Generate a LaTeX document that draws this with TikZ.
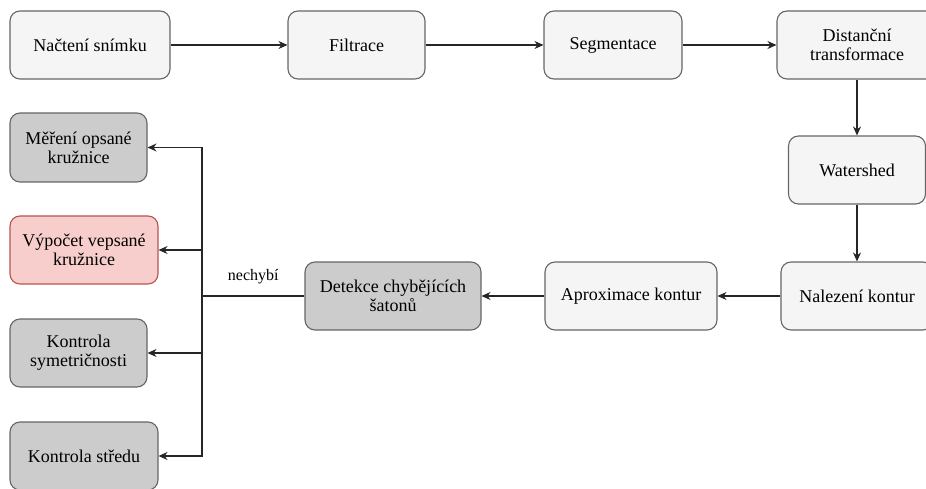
\documentclass[tikz,border=0pt]{standalone}
\usepackage{fontspec}
\setmainfont{Liberation Serif}
\usetikzlibrary{arrows.meta}

\definecolor{boxfill}{HTML}{F5F5F5}
\definecolor{boxdraw}{HTML}{666666}
\definecolor{greyfill}{HTML}{CCCCCC}
\definecolor{redfill}{HTML}{F8CECC}
\definecolor{reddraw}{HTML}{B85450}

\begin{document}
\begin{tikzpicture}[x=1pt,y=-1pt,
    stepbox/.style={draw=boxdraw, fill=boxfill, line width=1.1pt, rounded corners=10pt,
        minimum height=68pt, align=center, font=\fontsize{18}{21}\selectfont, inner sep=2pt},
    checkbox/.style={stepbox, fill=greyfill},
    flow/.style={draw=black!85, line width=1.2pt, -{Stealth[length=9pt,width=8pt]}}]
    \useasboundingbox (0,0) rectangle (926,489);

    %zpracovani snimku
    \node[stepbox, minimum width=160pt] (load)  at (90,45)    {Načtení snímku};
    \node[stepbox, minimum width=137pt] (filt)  at (356.5,45) {Filtrace};
    \node[stepbox, minimum width=138pt] (seg)   at (613,45)   {Segmentace};
    \node[stepbox, minimum width=160pt] (dist)  at (857,45)   {Distanční\\[-2pt]transformace};
    \node[stepbox, minimum width=137pt] (water) at (857,170)  {Watershed};
    \node[stepbox, minimum width=152pt] (nal)   at (857,296)  {Nalezení kontur};
    \node[stepbox, minimum width=172pt] (aprox) at (631,296)  {Aproximace kontur};
    \node[checkbox, minimum width=176pt] (det)  at (393,296)  {Detekce chybějících\\[-2pt]šatonů};

    %mereni
    \node[checkbox, minimum width=137pt, minimum height=69pt] (mer) at (78.5,147.5) {Měření opsané\\[-2pt]kružnice};
    \node[stepbox, fill=redfill, draw=reddraw, minimum width=148pt] (vyp) at (84,250) {Výpočet vepsané\\[-2pt]kružnice};
    \node[checkbox, minimum width=137pt] (sym) at (78.5,353) {Kontrola\\[-2pt]symetričnosti};
    \node[checkbox, minimum width=148pt] (str) at (84,456)   {Kontrola středu};

    \draw[flow] (load) -- (filt);
    \draw[flow] (filt) -- (seg);
    \draw[flow] (seg) -- (dist);
    \draw[flow] (dist) -- (water);
    \draw[flow] (water) -- (nal);
    \draw[flow] (nal) -- (aprox);
    \draw[flow] (aprox) -- (det);

    %vetveni
    \coordinate (split) at (202,296);
    \draw[draw=black!85, line width=1.2pt] (det.west) -- (split)
        node[pos=0.5, above=8pt, font=\fontsize{16}{19}\selectfont] {nechybí};
    \draw[flow] (split) |- (mer.east);
    \draw[flow] (split) |- (vyp.east);
    \draw[flow] (split) |- (sym.east);
    \draw[flow] (split) |- (str.east);
\end{tikzpicture}
\end{document}
